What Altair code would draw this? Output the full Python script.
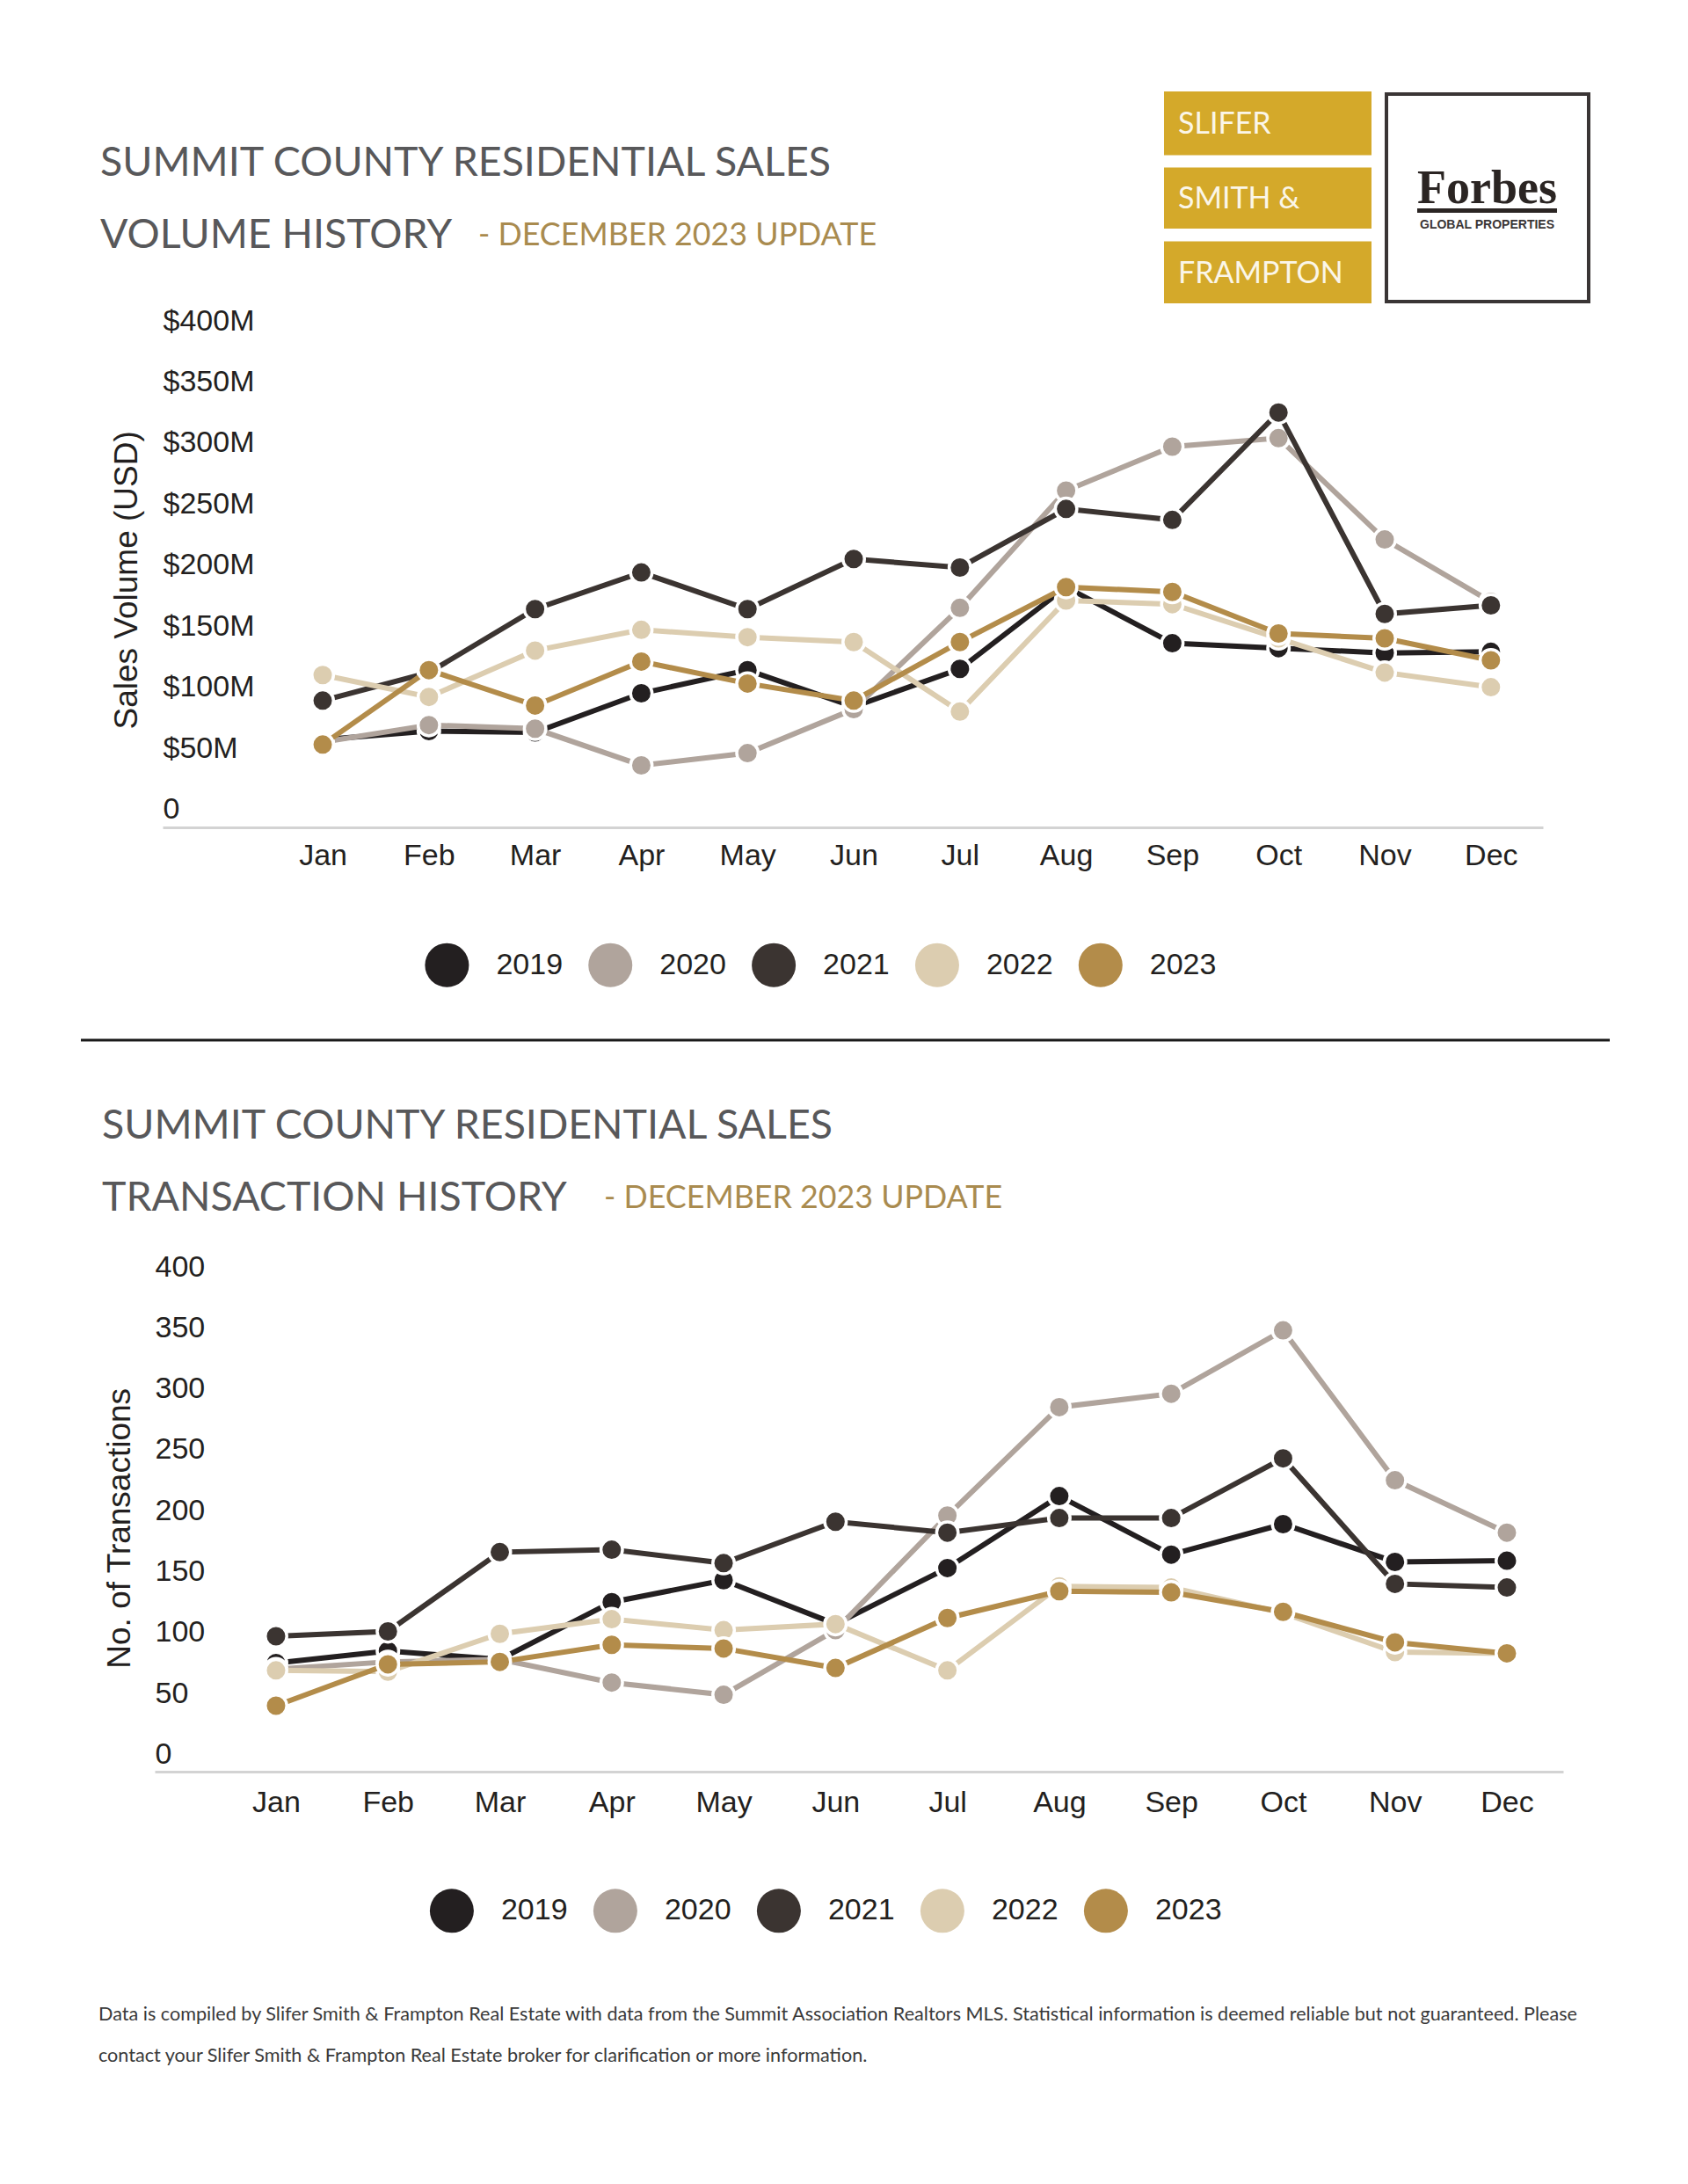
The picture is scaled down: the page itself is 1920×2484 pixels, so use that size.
import altair as alt
import pandas as pd

# ---------------- data ----------------
months = ["Jan", "Feb", "Mar", "Apr", "May", "Jun", "Jul", "Aug", "Sep", "Oct", "Nov", "Dec"]
years = ["2019", "2020", "2021", "2022", "2023"]
year_colors = ["#231f20", "#b0a49c", "#3b3431", "#dccdb0", "#b38c4a"]

# Sales volume, millions of USD
vol_2019 = [57, 64, 63, 95, 114, 84, 115, 182, 136, 132, 128, 129]
vol_2020 = [55, 69, 66, 36, 46, 82, 165, 261, 297, 304, 221, 170]
vol_2021 = [89, 112, 164, 194, 164, 205, 198, 246, 237, 325, 160, 167]
vol_2022 = [110, 92, 130, 147, 141, 137, 80, 171, 168, 140, 112, 100]
vol_2023 = [53, 114, 85, 121, 103, 89, 137, 182, 178, 144, 140, 122]

# Number of transactions
trx_2019 = [75, 85, 78, 125, 143, 107, 153, 212, 164, 189, 158, 159]
trx_2020 = [70, 76, 78, 59, 49, 102, 196, 285, 296, 348, 225, 182]
trx_2021 = [97, 101, 166, 168, 157, 191, 182, 194, 194, 243, 140, 137]
trx_2022 = [69, 68, 99, 111, 102, 107, 69, 138, 137, 116, 84, 83]
trx_2023 = [40, 74, 76, 90, 87, 71, 112, 134, 133, 117, 92, 83]

vol_ticks = [0, 50, 100, 150, 200, 250, 300, 350, 400]
vol_tick_labels = ["0", "$50M", "$100M", "$150M", "$200M", "$250M", "$300M", "$350M", "$400M"]
trx_ticks = [0, 50, 100, 150, 200, 250, 300, 350, 400]
trx_tick_labels = ["0", "50", "100", "150", "200", "250", "300", "350", "400"]

title_line1 = "SUMMIT COUNTY RESIDENTIAL SALES"
title_vol = "VOLUME HISTORY"
title_trx = "TRANSACTION HISTORY"
title_update = "- DECEMBER 2023 UPDATE"
vol_axis_title = "Sales Volume (USD)"
trx_axis_title = "No. of Transactions"
logo_words = ["SLIFER", "SMITH &", "FRAMPTON"]
forbes_word = "Forbes"
forbes_sub = "GLOBAL PROPERTIES"
footnote1 = ("Data is compiled by Slifer Smith & Frampton Real Estate with data from the Summit Association "
             "Realtors MLS. Statistical information is deemed reliable but not guaranteed. Please")
footnote2 = "contact your Slifer Smith & Frampton Real Estate broker for clarification or more information."


def long_table(series):
    rows = []
    for yr, vals in zip(years, series):
        for i, v in enumerate(vals):
            rows.append({"year": yr, "m": i + 1, "month": months[i], "v": v})
    return pd.DataFrame(rows)


vol_df = long_table([vol_2019, vol_2020, vol_2021, vol_2022, vol_2023])
trx_df = long_table([trx_2019, trx_2020, trx_2021, trx_2022, trx_2023])
legend_df = pd.DataFrame({"year": years})

W, H = 1904, 2468
FONT = "Liberation Sans"
TXT = "#231f20"

month_expr = "[" + ",".join("'%s'" % m for m in months) + "][datum.value-1]"


def label_expr(ticks, labels):
    step = ticks[1] - ticks[0]
    return "[" + ",".join("'%s'" % l for l in labels) + "][round(datum.value/%d)]" % step


def color_enc():
    return alt.Color("year:N", scale=alt.Scale(domain=years, range=year_colors), legend=None)


def panel(df, xrange_, xdom, yrange_, ydom, xoff, yoff, xlabpad, ticks, labels,
          ytitle, title_x, title_y):
    xaxis = alt.Axis(orient="bottom", offset=xoff, values=list(range(1, 13)), labelExpr=month_expr,
                     grid=False, ticks=False, tickSize=0, domainColor="#d3d3d3", domainWidth=3,
                     labelFont=FONT, labelFontSize=34, labelColor=TXT, labelPadding=xlabpad,
                     title=None, labelFlush=False, labelOverlap=False)
    yaxis = alt.Axis(orient="left", offset=yoff, values=ticks, labelExpr=label_expr(ticks, labels),
                     grid=False, ticks=False, tickSize=0, domain=False, labelAlign="left",
                     labelBaseline="middle", labelPadding=0, labelFont=FONT, labelFontSize=34,
                     labelColor=TXT, labelFlush=False, labelOverlap=False,
                     title=ytitle, titleFont=FONT, titleFontSize=37, titleFontWeight="normal",
                     titleColor=TXT, titleAngle=270, titleX=title_x, titleY=title_y,
                     titleAlign="center", titleBaseline="middle")
    xs = alt.Scale(domain=xdom, range=xrange_, nice=False, zero=False)
    ys = alt.Scale(domain=ydom, range=yrange_, nice=False, zero=False)
    layers = []
    for yr in years:
        base = alt.Chart(df).transform_filter(alt.datum.year == yr)
        x = alt.X("m:Q", scale=xs, axis=xaxis)
        y = alt.Y("v:Q", scale=ys, axis=yaxis)
        layers.append(base.mark_line(strokeWidth=6).encode(x=x, y=y, color=color_enc()))
        layers.append(base.mark_point(filled=True, size=600, stroke="white", strokeWidth=3.5,
                                      opacity=1).encode(x=x, y=y, color=color_enc()))
    return alt.layer(*layers)


def legend_layers(xrange_, ypos):
    xs = alt.X("year:N", scale=alt.Scale(type="point", domain=years, range=xrange_, padding=0),
               axis=None)
    base = alt.Chart(legend_df)
    dots = base.mark_point(filled=True, size=2500, opacity=1, strokeWidth=0).encode(
        x=xs, y=alt.value(ypos), color=color_enc())
    labs = base.mark_text(align="left", baseline="middle", dx=56, font=FONT, fontSize=34,
                          color=TXT).encode(x=xs, y=alt.value(ypos), text="year:N")
    return [dots, labs]


top = panel(vol_df, [177, 1747], [-0.507, 12.49], [933, 357], [-14.8, 400], -1535, -177, 15,
            vol_ticks, vol_tick_labels, vol_axis_title, -40.6, 651.4)
bottom = panel(trx_df, [168, 1770], [-0.084, 12.503], [2007.3, 1433], [-14.3, 400], -461, -168, 18,
               trx_ticks, trx_tick_labels, trx_axis_title, -39.5, 1729.8)

one = pd.DataFrame({"k": [0]})


def text(t, x, y, size, color, font="Lato", weight="normal", align="left"):
    return alt.Chart(one).mark_text(align=align, baseline="alphabetic", font=font, fontSize=size,
                                    fontWeight=weight, color=color).encode(
        x=alt.value(x), y=alt.value(y), text=alt.value(t))


def rect(x, x2, y, y2, fill, stroke=None, sw=0):
    kw = dict(fill=fill, strokeWidth=sw)
    if stroke:
        kw["stroke"] = stroke
    return alt.Chart(one).mark_rect(**kw).encode(
        x=alt.value(x), x2=alt.value(x2), y=alt.value(y), y2=alt.value(y2))


GRAY = "#58585a"
GOLD = "#a98b4f"
LOGO = "#d4a92a"
deco = [
    text(title_line1, 106, 192, 46.5, GRAY),
    text(title_vol, 106, 273.7, 46.5, GRAY),
    text(title_update, 536, 271, 35.8, GOLD),
    text(title_line1, 108, 1287, 46.5, GRAY),
    text(title_trx, 108, 1368.7, 46.5, GRAY),
    text(title_update, 679, 1366, 35.8, GOLD),
    rect(1316, 1552, 96, 168.5, LOGO),
    rect(1316, 1552, 182.6, 252, LOGO),
    rect(1316, 1552, 266.5, 337, LOGO),
    text(logo_words[0], 1332, 144, 34, "#fbf6e8"),
    text(logo_words[1], 1332, 229, 34, "#fbf6e8"),
    text(logo_words[2], 1332, 313.5, 34, "#fbf6e8"),
    rect(1569, 1799, 99, 335, "white", "#3a3535", 4),
    text(forbes_word, 1683.5, 223, 54, "#2b2523", font="Liberation Serif", weight="bold", align="center"),
    rect(1604, 1763, 229, 234, "#2b2523"),
    text(forbes_sub, 1683.5, 251.5, 14, "#3a3535", font="Liberation Sans", weight="bold", align="center"),
    alt.Chart(one).mark_rule(color="#1a1a1a", strokeWidth=3).encode(
        x=alt.value(84), x2=alt.value(1823), y=alt.value(1175)),
    text(footnote1, 104, 2290, 21.6, "#3a3a3a"),
    text(footnote2, 104, 2337, 21.6, "#3a3a3a"),
]

legends = legend_layers([500.4, 1243.8], 1089.7) + legend_layers([505.9, 1249.9], 2165.3)

chart = alt.layer(*deco, top, bottom, *legends).resolve_scale(
    x="independent", y="independent", color="independent"
).properties(
    width=W, height=H, padding=0, autosize=alt.AutoSizeParams(type="none"), background="white"
).configure_view(strokeWidth=0)

chart.save("out.html", embed_options={"renderer": "svg", "actions": False})
